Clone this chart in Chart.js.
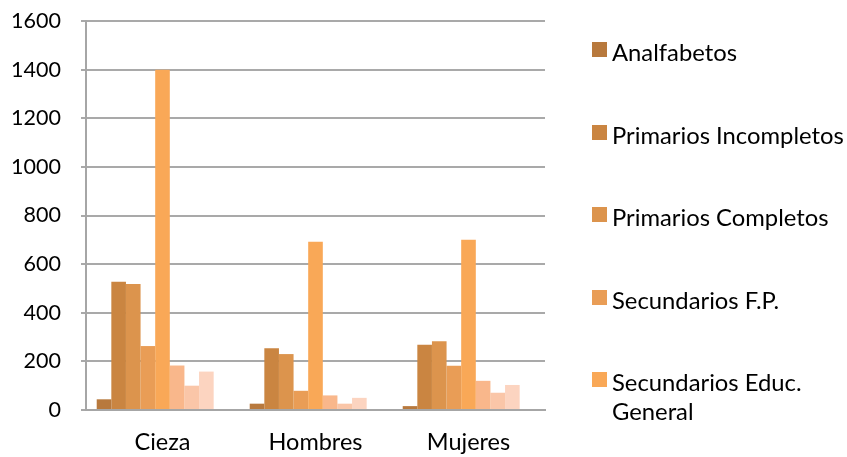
<!DOCTYPE html>
<html><head><meta charset="utf-8">
<script src="https://cdn.jsdelivr.net/npm/chart.js@4"></script>
<style>
html,body{margin:0;padding:0;background:#fff;overflow:hidden}
#wrap{position:relative;width:847px;height:457px}
#legend{position:absolute;left:592px;top:0;font-family:Lato,sans-serif;font-size:23.8px;color:#000}
.sw{position:absolute;left:0;width:15px;height:15px}
.tx{position:absolute;left:20px;line-height:29px;white-space:nowrap}
</style>
</head><body>
<div id="wrap"><canvas id="c" width="847" height="457"></canvas><div id="legend"></div></div>
<script>
const categories = ["Cieza", "Hombres", "Mujeres"];
const seriesNames = ["Analfabetos", "Primarios Incompletos", "Primarios Completos", "Secundarios F.P.", "Secundarios Educ. General", "Universitarios Medios", "Universitarios Superiores", "Doctorado", "Otros"];
const analfabetos = [44, 26, 16];
const primariosIncompletos = [527, 254, 268];
const primariosCompletos = [518, 230, 283];
const secundariosFP = [263, 79, 182];
const secundariosEducGeneral = [1400, 692, 700];
const universitariosMedios = [183, 60, 120];
const universitariosSuperiores = [100, 26, 71];
const doctorado = [158, 50, 103];
const otros = [0, 0, 0];
const yTicks = [0, 200, 400, 600, 800, 1000, 1200, 1400, 1600];
const legendShown = 5;

const values = [analfabetos, primariosIncompletos, primariosCompletos, secundariosFP, secundariosEducGeneral, universitariosMedios, universitariosSuperiores, doctorado, otros];
const colors = ["#B8793D", "#CA8541", "#DC944D", "#E99D56", "#F9A857", "#F9B78B", "#FAC6A8", "#FCD4C0", "#FDE2D4"];
const legendLines = [["Analfabetos"], ["Primarios Incompletos"], ["Primarios Completos"], ["Secundarios F.P."], ["Secundarios Educ.", "General"]];

const FONT = "Lato";
const datasets = values.map((v, i) => ({
  label: seriesNames[i], data: v, backgroundColor: colors[i],
  borderWidth: 0,
  categoryPercentage: 0.86, barPercentage: 1
}));

new Chart(document.getElementById("c"), {
  type: "bar",
  data: { labels: categories, datasets },
  options: {
    responsive: false, animation: false,
    layout: { padding: { top: 21, right: 302, left: 0, bottom: 0 } },
    plugins: { legend: { display: false }, tooltip: { enabled: false } },
    scales: {
      x: {
        grid: { display: false, drawTicks: false },
        border: { display: true, color: "#A6A6A6", width: 2 },
        ticks: { color: "#000", font: { family: FONT, size: 23.5 }, padding: 18 },
        afterFit: s => { s.height = 47; s.paddingLeft = 0; s.paddingRight = 0; }
      },
      y: {
        min: 0, max: 1600,
        afterBuildTicks: s => { s.ticks = yTicks.map(v => ({ value: v })); },
        grid: { color: "#A9A9A9", lineWidth: 2, tickLength: 5 },
        border: { display: true, color: "#A6A6A6", width: 2 },
        ticks: { color: "#000", font: { family: FONT, size: 21.5 }, padding: 20, callback: v => String(v) },
        afterFit: s => { s.width = 86; s.paddingTop = 0; s.paddingBottom = 0; }
      }
    }
  }
});

const lg = document.getElementById("legend");
for (let i = 0; i < legendShown; i++) {
  const top = 42 + i * 82.5;
  const sw = document.createElement("div");
  sw.className = "sw"; sw.style.top = top + "px"; sw.style.background = colors[i];
  lg.appendChild(sw);
  const tx = document.createElement("div");
  tx.className = "tx"; tx.style.top = (top - 4) + "px";
  tx.innerHTML = legendLines[i].join("<br>");
  lg.appendChild(tx);
}
</script>
</body></html>
